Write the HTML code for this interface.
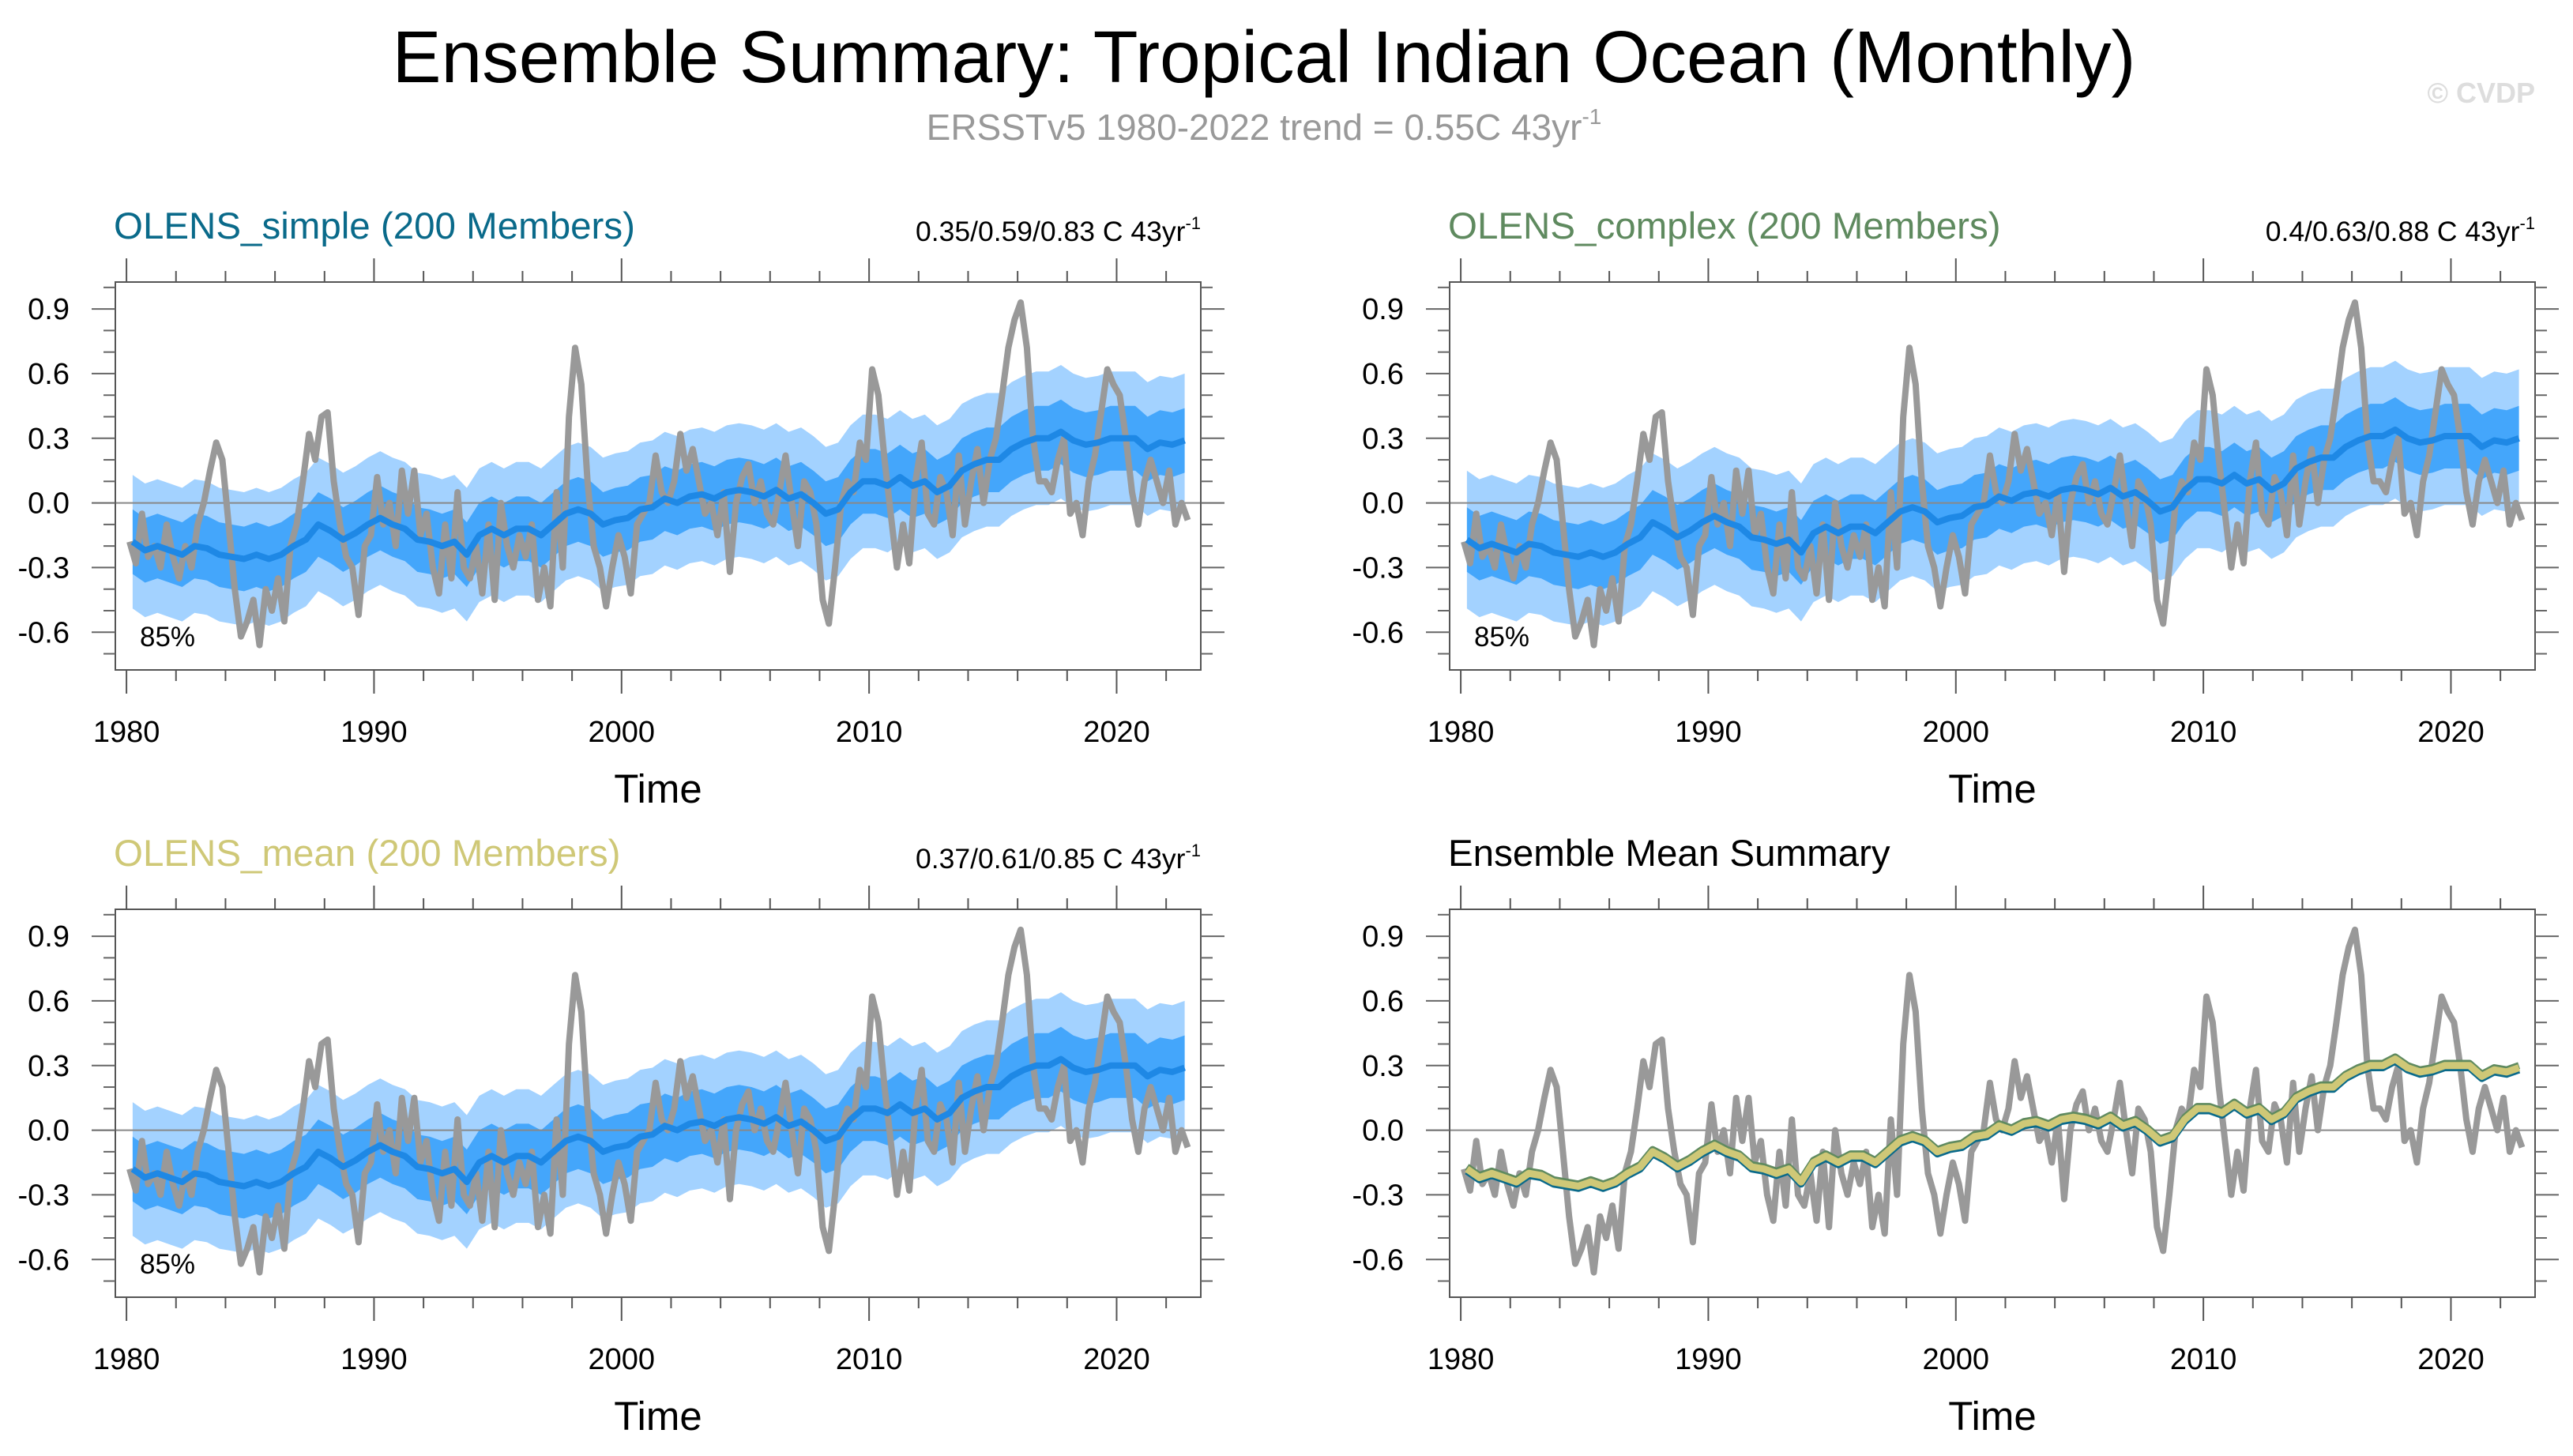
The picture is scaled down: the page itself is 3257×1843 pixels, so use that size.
<!DOCTYPE html>
<html><head><meta charset="utf-8"><style>
html,body{margin:0;padding:0;background:#fff;}
svg{display:block;font-family:"Liberation Sans",sans-serif;}
</style></head><body>
<svg id="fig" width="3257" height="1843" viewBox="0 0 3257 1843" xmlns="http://www.w3.org/2000/svg">
<text x="1600" y="104" font-size="93" text-anchor="middle" fill="#000">Ensemble Summary: Tropical Indian Ocean (Monthly)</text>
<text x="1600" y="177" font-size="46" text-anchor="middle" fill="#999">ERSSTv5 1980-2022 trend = 0.55C 43yr<tspan font-size="28" dy="-20">-1</tspan></text>
<text x="3209" y="130" font-size="36" font-weight="bold" text-anchor="end" fill="#ddd">© CVDP</text>
<g id="panels"></g>
</svg>
<script>
// Observed (ERSSTv5), quarterly values 1980.0 - 2022.75
const obs = [
-0.18,-0.28,-0.05,-0.25, -0.2,-0.3,-0.1,-0.25, -0.35,-0.2,-0.3,-0.1, 0.0,0.15,0.28,0.2,
-0.1,-0.4,-0.62,-0.55, -0.45,-0.66,-0.4,-0.5, -0.35,-0.55,-0.2,-0.1, 0.1,0.32,0.2,0.4,
0.42,0.1,-0.1,-0.25, -0.3,-0.52,-0.2,-0.15, 0.12,-0.1,0.0,-0.2, 0.15,-0.05,0.15,-0.15,
-0.05,-0.3,-0.42,-0.1, -0.35,0.05,-0.3,-0.35, -0.2,-0.42,-0.1,-0.45, 0.0,-0.2,-0.3,-0.15,
-0.25,-0.1,-0.45,-0.3, -0.48,0.05,-0.3,0.4, 0.72,0.55,0.1,-0.2, -0.3,-0.48,-0.3,-0.15,
-0.25,-0.42,-0.1,-0.05, 0.0,0.22,0.05,0.0, 0.1,0.32,0.15,0.25, 0.1,-0.05,0.0,-0.15,
0.05,-0.32,0.0,0.12, 0.18,0.0,0.1,-0.05, -0.1,0.05,0.22,0.0, -0.2,0.1,0.05,-0.1,
-0.45,-0.56,-0.3,0.0, 0.1,0.05,0.28,0.2, 0.62,0.5,0.2,-0.05, -0.3,-0.1,-0.28,0.1,
0.28,-0.05,-0.1,0.12, 0.05,-0.15,0.22,-0.1, 0.1,0.25,0.0,0.2, 0.3,0.5,0.72,0.85,
0.93,0.72,0.3,0.1, 0.1,0.05,0.2,0.3, -0.05,0.0,-0.15,0.1, 0.22,0.42,0.62,0.55,
0.5,0.3,0.05,-0.1, 0.1,0.2,0.1,0.0, 0.15,-0.1,0.0,-0.08];
// Ensemble mean, semiannual 1980.0 - 2022.5
const ensMean = [
-0.18,-0.22,-0.2,-0.22,-0.24,-0.2,-0.21,-0.24,-0.25,-0.26,-0.24,-0.26,-0.24,-0.2,-0.17,-0.1,
-0.13,-0.17,-0.14,-0.1,-0.07,-0.1,-0.12,-0.17,-0.18,-0.2,-0.18,-0.24,-0.15,-0.12,-0.15,-0.12,
-0.12,-0.15,-0.1,-0.05,-0.03,-0.05,-0.1,-0.08,-0.07,-0.03,-0.02,0.02,0.0,0.03,0.04,0.02,
0.05,0.06,0.05,0.03,0.06,0.02,0.04,0.0,-0.05,-0.03,0.05,0.1,0.1,0.08,0.12,0.08,
0.1,0.05,0.08,0.15,0.18,0.2,0.2,0.25,0.28,0.3,0.3,0.33,0.29,0.27,0.28,0.3,
0.3,0.3,0.25,0.28,0.27,0.29];
const darkHalf = [0.15, 0.15, 0.15];
const lightHalf = [0.31, 0.32, 0.31];
const meanOffsets = [0.0, 0.01, 0.0];
const panelTitles = ["OLENS_simple (200 Members)","OLENS_complex (200 Members)","OLENS_mean (200 Members)","Ensemble Mean Summary"];
const panelTrends = ["0.35/0.59/0.83 C 43yr","0.4/0.63/0.88 C 43yr","0.37/0.61/0.85 C 43yr",""];
const titleColors = ["#0a6a8a","#5f8a5f","#cfc877","#000"];
const yTicks = [0.9,0.6,0.3,0.0,-0.3,-0.6];
const yTickLabels = ["0.9","0.6","0.3","0.0","-0.3","-0.6"];
const xTicks = [1980,1990,2000,2010,2020];
const summaryColors = ["#0a6a8a","#5f8a5f","#cfc877"];
const summaryOffsets = [-0.01, 0.01, 0.0];

const NS="http://www.w3.org/2000/svg";
const root=document.getElementById('panels');
function mk(tag,attrs,parent){const e=document.createElementNS(NS,tag);for(const k in attrs)e.setAttribute(k,attrs[k]);(parent||root).appendChild(e);return e;}
const X0=1979.55,X1=2023.4,Y0=-0.775,Y1=1.025;
const W=1374,H=491;
const origins=[[146,357],[1835,357],[146,1151],[1835,1151]];
const slugs=["simple","complex","mean","summary"];

origins.forEach((o,pi)=>{
  const [L,T]=o;
  const sx=t=>L+(t-X0)/(X1-X0)*W;
  const sy=v=>T+(Y1-v)/(Y1-Y0)*H;
  const g=mk('g',{});
  
  
  const tt=mk('text',{x:L-2,y:T-55,'font-size':47.5,fill:titleColors[pi]},g);
  tt.textContent=panelTitles[pi];
  
  
  if(panelTrends[pi]){
    const tr=mk('text',{x:L+W,y:T-52,'font-size':35.5,'text-anchor':'end',fill:'#000'},g);
    tr.textContent=panelTrends[pi];
    const sp=mk('tspan',{'font-size':22,dy:-15},tr);sp.textContent='-1';
    
    
  }
  const clip=mk('clipPath',{id:'c'+pi},g);mk('rect',{x:L,y:T,width:W,height:H},clip);
  const pg=mk('g',{'clip-path':'url(#c'+pi+')'},g);
  const mt=i=>1980+i*0.5+0.25;
  if(pi<3){
    const band=(half,col,name)=>{
      let up=ensMean.map((v,i)=>sx(mt(i)).toFixed(1)+','+sy(v+meanOffsets[pi]+half).toFixed(1));
      let dn=ensMean.map((v,i)=>sx(mt(i)).toFixed(1)+','+sy(v+meanOffsets[pi]-half).toFixed(1)).reverse();
      const p=mk('polygon',{points:up.concat(dn).join(' '),fill:col},pg);
      
      
    };
    band(lightHalf[pi],'#a3d2ff','light-spread-band');
    band(darkHalf[pi],'#44a6fb','dark-spread-band');
  }
  mk('line',{x1:L,x2:L+W,y1:sy(0),y2:sy(0),stroke:'#888','stroke-width':2},pg);
  const op=mk('polyline',{points:obs.map((v,i)=>sx(1980+i*0.25+0.125).toFixed(1)+','+sy(v).toFixed(1)).join(' '),fill:'none',stroke:'#999','stroke-width':8,'stroke-linejoin':'round'},pg);
  
  
  if(pi<3){
    const ml=mk('polyline',{points:ensMean.map((v,i)=>sx(mt(i)).toFixed(1)+','+sy(v+meanOffsets[pi]).toFixed(1)).join(' '),fill:'none',stroke:'#1e88e5','stroke-width':8,'stroke-linejoin':'round'},pg);
    
    
    const pc=mk('text',{x:L+31,y:T+H-30,'font-size':35,fill:'#000'},g);pc.textContent='85%';
    
    
  } else {
    summaryColors.forEach((c,k)=>{
      const sl=mk('polyline',{points:ensMean.map((v,i)=>sx(mt(i)).toFixed(1)+','+sy(v+summaryOffsets[k]).toFixed(1)).join(' '),fill:'none',stroke:c,'stroke-width':9,'stroke-linejoin':'round'},pg);
      
      
    });
  }
  mk('rect',{x:L,y:T,width:W,height:H,fill:'none',stroke:'#555','stroke-width':2},g);
  for(let yr=1980;yr<=2022;yr+=2){
    const maj=yr%10===0, len=maj?30:14, x=sx(yr);
    mk('line',{x1:x,x2:x,y1:T,y2:T-len,stroke:'#555','stroke-width':2},g);
    mk('line',{x1:x,x2:x,y1:T+H,y2:T+H+len,stroke:'#555','stroke-width':2},g);
  }
  xTicks.forEach(yr=>{
    const t=mk('text',{x:sx(yr),y:T+H+91,'font-size':38,'text-anchor':'middle',fill:'#000'},g);t.textContent=yr;
    
    
  });
  const xt=mk('text',{x:L+W/2,y:T+H+168,'font-size':51,'text-anchor':'middle',fill:'#000'},g);xt.textContent='Time';
  
  
  for(let k=-7;k<=10;k++){
    const v=k/10, y=sy(v), maj=(k%3===0), len=maj?30:15;
    mk('line',{x1:L,x2:L-len,y1:y,y2:y,stroke:'#666','stroke-width':2},g);
    mk('line',{x1:L+W,x2:L+W+len,y1:y,y2:y,stroke:'#666','stroke-width':2},g);
  }
  yTicks.forEach((v,i)=>{
    const t=mk('text',{x:L-58,y:sy(v)+13,'font-size':38,'text-anchor':'end',fill:'#000'},g);t.textContent=yTickLabels[i];
    
    
  });
});
</script>
</body></html>
